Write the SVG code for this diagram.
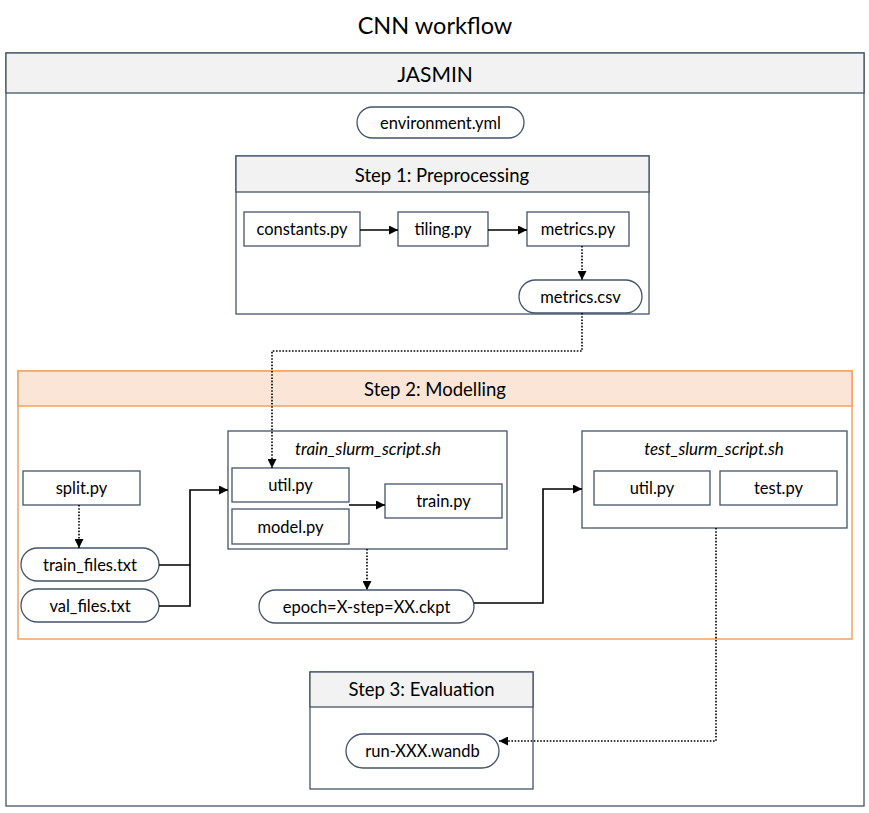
<svg xmlns="http://www.w3.org/2000/svg" width="869" height="813" viewBox="0 0 869 813">
<defs>
<marker id="ahs" viewBox="0 0 10 10" refX="10" refY="5" markerWidth="9" markerHeight="9" orient="auto" markerUnits="userSpaceOnUse">
<path d="M0,0 L10,5 L0,10 z" fill="#000"/>
</marker>
</defs>
<style>
text{font-family:Lato,"Open Sans","Liberation Sans",sans-serif;fill:#000;text-anchor:middle;dominant-baseline:central}
.box{fill:#fff;stroke:#44546a;stroke-width:1.3}
.hdr{fill:#f2f2f2;stroke:#44546a;stroke-width:1.3}
.obox{fill:none;stroke:#f4a25f;stroke-width:1.5}
.ohdr{fill:#fbe5d6;stroke:#f4a25f;stroke-width:1.5}
.pill{fill:#fff;stroke:#44546a;stroke-width:1.3}
.t{font-size:16.5px}
.h{font-size:18.5px}
.i{font-size:17px;font-style:italic}
.solid{fill:none;stroke:#000;stroke-width:1.6}
.dot{fill:none;stroke:#000;stroke-width:1.6;stroke-dasharray:1.6 1.6}
</style>
<text x="435" y="25" style="font-size:23.5px">CNN workflow</text>
<g id="jasmin">
<rect x="6" y="53" width="858" height="753" class="box"/>
<rect x="6" y="53" width="858" height="40" class="hdr"/>
<text x="435" y="73" style="font-size:21px">JASMIN</text>
</g>
<g id="environment">
<rect x="357" y="107" width="167" height="31" rx="15.5" class="pill"/>
<text x="440.5" y="122.5" class="t">environment.yml</text>
</g>
<g id="step1">
<rect x="236" y="156" width="413" height="158" class="box"/>
<rect x="236" y="156" width="413" height="36" class="hdr"/>
<text x="442" y="175" class="h">Step 1: Preprocessing</text>
</g>
<g id="constants">
<rect x="244" y="212" width="116" height="34" class="box"/>
<text x="302" y="229" class="t">constants.py</text>
</g>
<g id="tiling">
<rect x="398" y="212" width="90" height="34" class="box"/>
<text x="443" y="229" class="t">tiling.py</text>
</g>
<g id="metrics_py">
<rect x="527" y="212" width="102" height="34" class="box"/>
<text x="578" y="229" class="t">metrics.py</text>
</g>
<g id="metrics_csv">
<rect x="519" y="280" width="123" height="33" rx="16.5" class="pill"/>
<text x="580.5" y="296.5" class="t">metrics.csv</text>
</g>
<g id="step2">
<rect x="18" y="371" width="834" height="268" class="obox"/>
<rect x="18" y="371" width="834" height="35" class="ohdr"/>
<text x="435" y="389" class="h">Step 2: Modelling</text>
</g>
<g id="split">
<rect x="23" y="471" width="117" height="34" class="box"/>
<text x="81.5" y="488" class="t">split.py</text>
</g>
<g id="train_files">
<rect x="21" y="548" width="138" height="33" rx="16.5" class="pill"/>
<text x="90" y="564.5" class="t">train_files.txt</text>
</g>
<g id="val_files">
<rect x="21" y="589" width="138" height="33" rx="16.5" class="pill"/>
<text x="90" y="605.5" class="t">val_files.txt</text>
</g>
<g id="train_slurm">
<rect x="228" y="431" width="279" height="118" class="box"/>
<text x="368" y="448" class="i">train_slurm_script.sh</text>
</g>
<g id="util_train">
<rect x="232" y="468" width="117" height="34" class="box"/>
<text x="290.5" y="485" class="t">util.py</text>
</g>
<g id="model">
<rect x="232" y="509" width="117" height="35" class="box"/>
<text x="290.5" y="526.5" class="t">model.py</text>
</g>
<g id="train">
<rect x="385" y="484" width="117" height="34" class="box"/>
<text x="443.5" y="501" class="t">train.py</text>
</g>
<g id="epoch">
<rect x="259" y="590" width="215" height="33" rx="16.5" class="pill"/>
<text x="366.5" y="606.5" class="t">epoch=X-step=XX.ckpt</text>
</g>
<g id="test_slurm">
<rect x="582" y="431" width="265" height="97" class="box"/>
<text x="714" y="448" class="i">test_slurm_script.sh</text>
</g>
<g id="util_test">
<rect x="594" y="471" width="116" height="34" class="box"/>
<text x="652" y="488" class="t">util.py</text>
</g>
<g id="test">
<rect x="720" y="471" width="117" height="34" class="box"/>
<text x="778.5" y="488" class="t">test.py</text>
</g>
<g id="step3">
<rect x="310" y="672" width="223" height="117" class="box"/>
<rect x="310" y="672" width="223" height="35" class="hdr"/>
<text x="421.5" y="689" class="h">Step 3: Evaluation</text>
</g>
<g id="wandb">
<rect x="346" y="734" width="153" height="34" rx="17" class="pill"/>
<text x="422.5" y="751" class="t">run-XXX.wandb</text>
</g>
<g id="connectors">
<path d="M360,230 H398" class="solid" marker-end="url(#ahs)"/>
<path d="M488,230 H527" class="solid" marker-end="url(#ahs)"/>
<path d="M582,246 V280" class="dot" marker-end="url(#ahs)"/>
<path d="M582,313 V351 H272 V468" class="dot" marker-end="url(#ahs)"/>
<path d="M79,505 V548" class="dot" marker-end="url(#ahs)"/>
<path d="M159,565 H190 M159,606 H190 V490 H228" class="solid" marker-end="url(#ahs)"/>
<path d="M349,505 H385" class="solid" marker-end="url(#ahs)"/>
<path d="M367,549 V590" class="dot" marker-end="url(#ahs)"/>
<path d="M474,603 H543 V489 H582" class="solid" marker-end="url(#ahs)"/>
<path d="M716,528 V741 H499" class="dot" marker-end="url(#ahs)"/>
</g>
</svg>
